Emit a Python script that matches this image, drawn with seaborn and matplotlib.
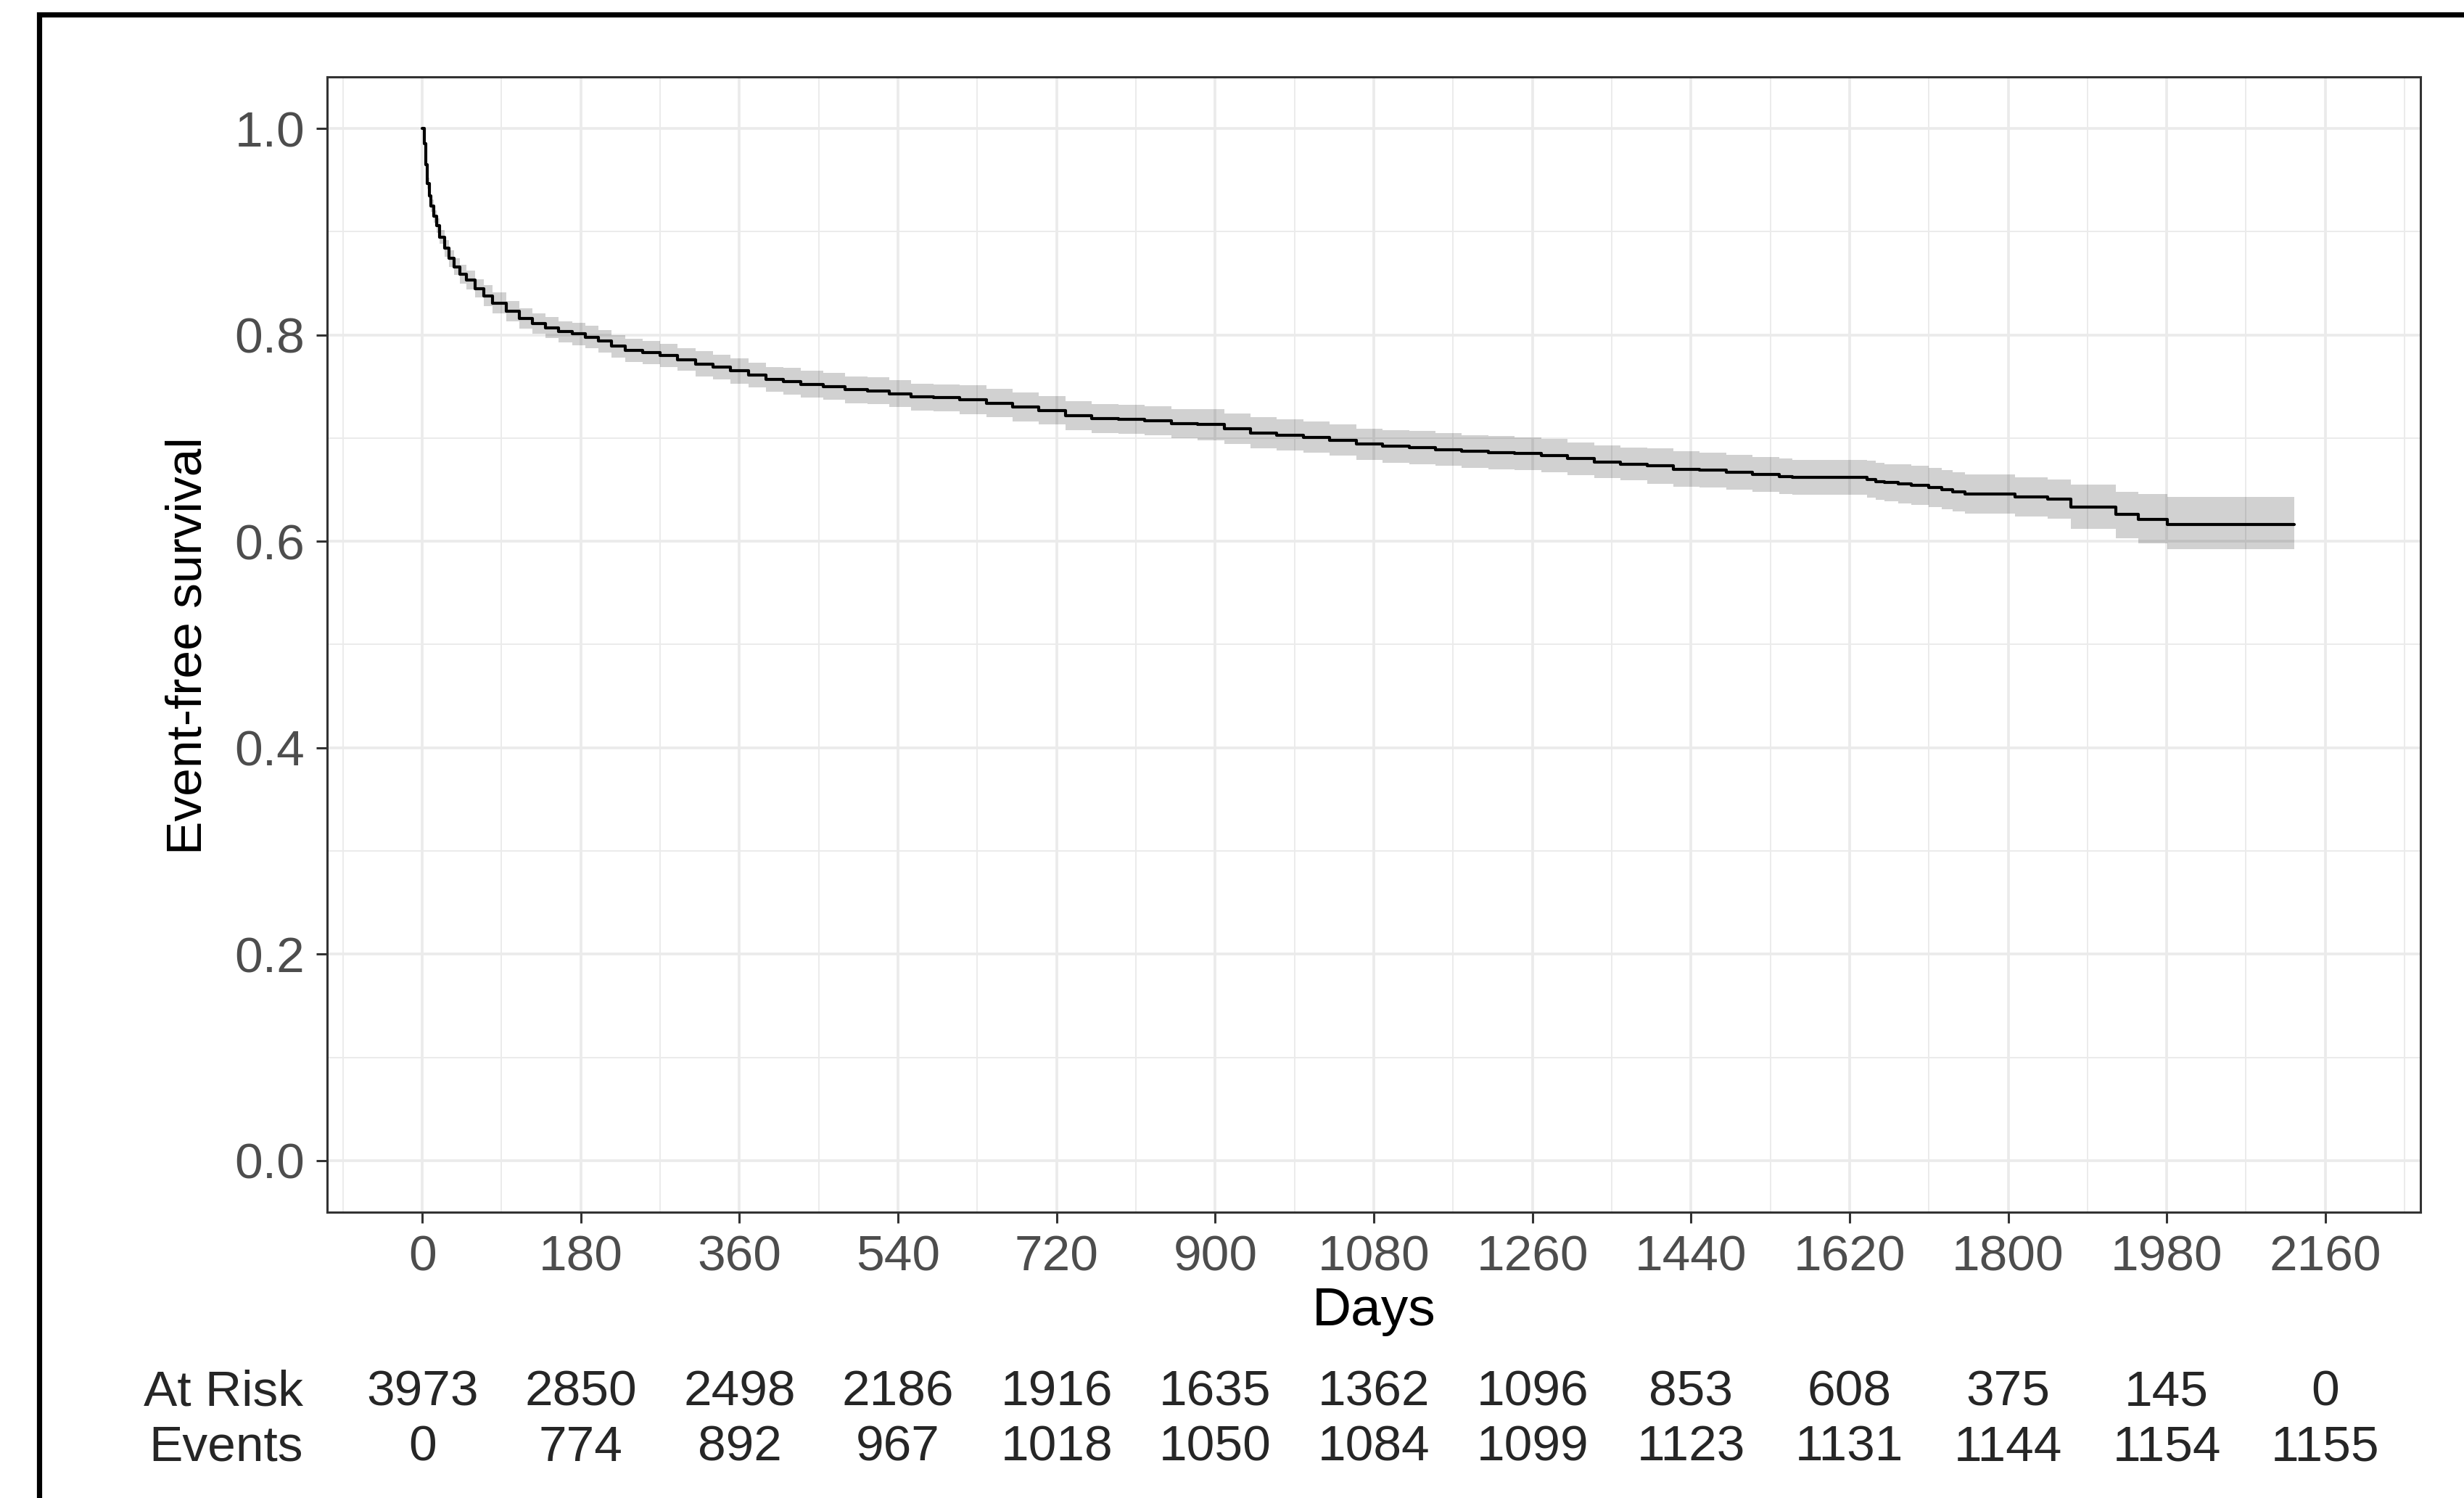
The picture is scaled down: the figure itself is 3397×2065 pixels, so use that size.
import numpy as np
import pandas as pd
import matplotlib
matplotlib.use("Agg")
import matplotlib.pyplot as plt
from matplotlib.lines import Line2D
from matplotlib.ticker import MultipleLocator
import seaborn as sns

# Kaplan-Meier estimate (days, survival, 95% CI)
days = [0, 2, 4, 6, 8, 10, 13, 16, 20, 25, 30, 36, 43, 50, 60, 70, 80, 95, 110, 125,
        140, 155, 170, 185, 200, 215, 230, 250, 270, 290, 310, 330, 350, 370, 390, 410,
        430, 455, 480, 505, 530, 555, 580, 610, 640, 670, 700, 730, 760, 790, 820, 850,
        880, 910, 940, 970, 1000, 1030, 1060, 1090, 1120, 1150, 1180, 1210, 1240, 1270,
        1300, 1330, 1360, 1390, 1420, 1450, 1480, 1510, 1540, 1555, 1640, 1650, 1660,
        1675, 1690, 1710, 1725, 1737, 1751, 1808, 1845, 1871, 1922, 1948, 1981, 2125]
surv = [1.0, 0.985, 0.965, 0.947, 0.935, 0.925, 0.915, 0.906, 0.895, 0.884, 0.874, 0.866,
        0.859, 0.853, 0.845, 0.838, 0.831, 0.823, 0.816, 0.811, 0.807, 0.803, 0.801, 0.798,
        0.794, 0.789, 0.785, 0.783, 0.780, 0.776, 0.772, 0.769, 0.765, 0.761, 0.757, 0.755,
        0.752, 0.750, 0.747, 0.746, 0.743, 0.740, 0.739, 0.737, 0.734, 0.730, 0.727, 0.722,
        0.719, 0.718, 0.717, 0.714, 0.713, 0.709, 0.705, 0.703, 0.701, 0.698, 0.694, 0.692,
        0.691, 0.689, 0.687, 0.686, 0.685, 0.683, 0.680, 0.677, 0.675, 0.673, 0.670, 0.669,
        0.667, 0.665, 0.663, 0.662, 0.660, 0.658, 0.657, 0.656, 0.654, 0.652, 0.650, 0.648,
        0.646, 0.643, 0.641, 0.633, 0.626, 0.621, 0.616, 0.616]
lower = [1.0, 0.982, 0.961, 0.942, 0.930, 0.919, 0.909, 0.899, 0.888, 0.876, 0.866, 0.858,
         0.850, 0.844, 0.836, 0.828, 0.821, 0.813, 0.806, 0.801, 0.797, 0.793, 0.790, 0.787,
         0.783, 0.778, 0.774, 0.772, 0.769, 0.765, 0.760, 0.757, 0.753, 0.749, 0.745, 0.742,
         0.739, 0.737, 0.734, 0.733, 0.730, 0.727, 0.726, 0.723, 0.720, 0.716, 0.713, 0.708,
         0.705, 0.704, 0.703, 0.700, 0.698, 0.694, 0.690, 0.688, 0.686, 0.683, 0.679, 0.676,
         0.675, 0.673, 0.671, 0.670, 0.669, 0.667, 0.664, 0.661, 0.659, 0.656, 0.653, 0.652,
         0.650, 0.648, 0.646, 0.645, 0.642, 0.640, 0.639, 0.637, 0.635, 0.633, 0.631, 0.629,
         0.627, 0.624, 0.622, 0.612, 0.603, 0.598, 0.5925, 0.5925]
upper = [1.0, 0.988, 0.969, 0.952, 0.940, 0.931, 0.921, 0.913, 0.902, 0.892, 0.882, 0.874,
         0.868, 0.862, 0.854, 0.848, 0.841, 0.833, 0.826, 0.821, 0.817, 0.813, 0.812, 0.809,
         0.805, 0.800, 0.796, 0.794, 0.791, 0.787, 0.784, 0.781, 0.777, 0.773, 0.769, 0.768,
         0.765, 0.763, 0.760, 0.759, 0.756, 0.753, 0.752, 0.751, 0.748, 0.744, 0.741, 0.736,
         0.733, 0.732, 0.731, 0.728, 0.728, 0.724, 0.720, 0.718, 0.716, 0.713, 0.709, 0.708,
         0.707, 0.705, 0.703, 0.702, 0.701, 0.699, 0.696, 0.693, 0.691, 0.690, 0.687, 0.686,
         0.684, 0.682, 0.680, 0.679, 0.678, 0.676, 0.675, 0.675, 0.673, 0.671, 0.669, 0.667,
         0.665, 0.662, 0.660, 0.655, 0.648, 0.646, 0.643, 0.643]

# risk table
table_times = [0, 180, 360, 540, 720, 900, 1080, 1260, 1440, 1620, 1800, 1980, 2160]
at_risk = [3973, 2850, 2498, 2186, 1916, 1635, 1362, 1096, 853, 608, 375, 145, 0]
events = [0, 774, 892, 967, 1018, 1050, 1084, 1099, 1123, 1131, 1144, 1154, 1155]

df = pd.DataFrame({"Days": days, "surv": surv, "lower": lower, "upper": upper})

sns.set_style("white")
plt.rcParams["font.family"] = ["Liberation Sans", "DejaVu Sans"]

W, H = 3398, 2065
fig = plt.figure(figsize=(W / 100, H / 100), dpi=100)
ax = fig.add_axes([451 / W, 1 - 1671 / H, (3337 - 451) / W, (1671 - 106) / H])

# confidence band + step curve
ax.fill_between(df["Days"], df["lower"], df["upper"], step="post",
                color="black", alpha=0.18, linewidth=0, zorder=2)
sns.lineplot(data=df, x="Days", y="surv", drawstyle="steps-post", color="black",
             linewidth=3.0, ax=ax, zorder=3, estimator=None)

ax.set_xlim(-108, 2268)
ax.set_ylim(-0.05, 1.05)
ax.xaxis.set_major_locator(MultipleLocator(180))
ax.xaxis.set_minor_locator(MultipleLocator(90))
ax.yaxis.set_major_locator(MultipleLocator(0.2))
ax.yaxis.set_minor_locator(MultipleLocator(0.1))
ax.set_yticks([0, 0.2, 0.4, 0.6, 0.8, 1.0])
ax.set_yticklabels(["0.0", "0.2", "0.4", "0.6", "0.8", "1.0"])

ax.grid(which="major", color="#EBEBEB", linewidth=2.7, zorder=0)
ax.grid(which="minor", color="#EBEBEB", linewidth=1.4, zorder=0)
ax.set_axisbelow(True)
for s in ax.spines.values():
    s.set_color("#333333")
    s.set_linewidth(2.2)
    s.set_visible(True)

ax.tick_params(which="major", length=11, width=2.2, color="#333333",
               labelcolor="#4D4D4D", labelsize=50, pad=11, bottom=True, left=True)
ax.tick_params(which="minor", length=0)
ax.set_xlabel("")
ax.set_ylabel("")

fig.text(1894 / W, 1 - 1807 / H, "Days", ha="center", va="center", fontsize=54, color="black")
fig.text(260 / W, 1 - 890 / H, "Event-free survival", ha="center", va="center",
         rotation=90, fontsize=50, color="black")

# numbers at risk / cumulative events
trans = matplotlib.transforms.blended_transform_factory(ax.transData, fig.transFigure)
row_y = [1 - 1920 / H, 1 - 1996 / H]
for t, n, e in zip(table_times, at_risk, events):
    ax.text(t, row_y[0], str(n), transform=trans, ha="center", va="center", fontsize=50, clip_on=False)
    ax.text(t, row_y[1], str(e), transform=trans, ha="center", va="center", fontsize=50, clip_on=False)
fig.text(418 / W, row_y[0], "At Risk", ha="right", va="center", fontsize=50)
fig.text(418 / W, row_y[1], "Events", ha="right", va="center", fontsize=50)

# outer frame (left and top edges visible)
fig.add_artist(Line2D([54 / W, 54 / W, 1.01], [-0.01, 1 - 20 / H, 1 - 20 / H],
                      transform=fig.transFigure, color="black", linewidth=5.2,
                      solid_joinstyle="miter"))

fig.savefig("out.png", dpi=100)
